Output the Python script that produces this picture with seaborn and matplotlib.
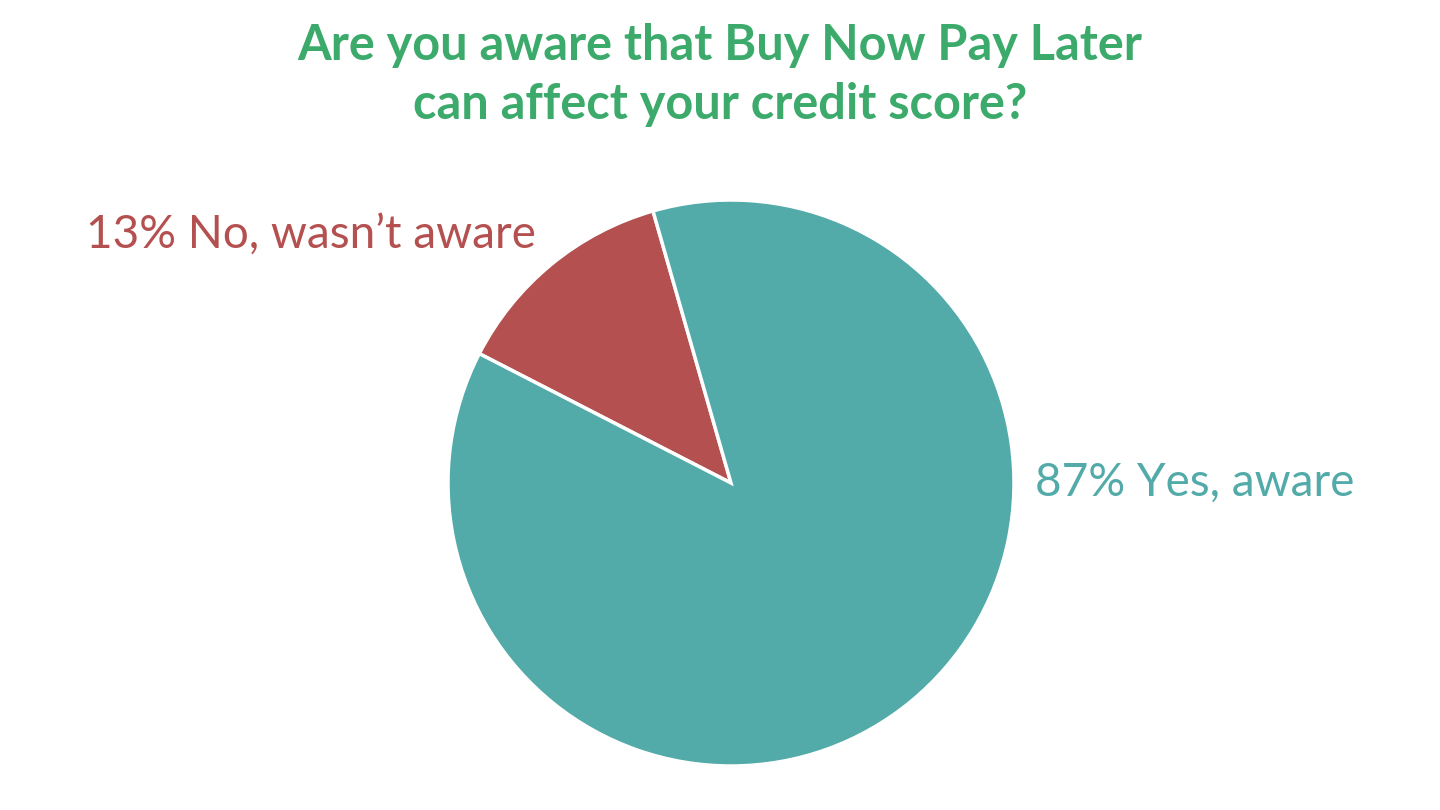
import numpy as np
import matplotlib
matplotlib.use('Agg')
import matplotlib.pyplot as plt
import seaborn as sns

# survey answers (percent)
answers = ['No, wasn\u2019t aware', 'Yes, aware']
shares  = [13, 87]
colors  = ['#B45050', '#52AAA9']
title   = 'Are you aware that Buy Now Pay Later\ncan affect your credit score?'

sns.set_style('white')
plt.rcParams['font.family'] = ['Lato', 'DejaVu Sans']

fig = plt.figure(figsize=(14.4, 8.1), dpi=100)
ax  = fig.add_axes([448 / 1440, 44 / 810, 566 / 1440, 566 / 810])

wedges, _ = ax.pie(shares, colors=colors, startangle=106, counterclock=True,
                   wedgeprops=dict(edgecolor='white', linewidth=2.5))
ax.set_xlim(-1, 1)
ax.set_ylim(-1, 1)
ax.set_aspect('equal')
ax.axis('off')

# labels next to the slices
label_pos = [(-0.69, 0.876, 'right'), (1.074, 0.0, 'left')]
for share, answer, col, (lx, ly, ha) in zip(shares, answers, colors, label_pos):
    ax.text(lx, ly, '%d%% %s' % (share, answer), color=col, fontsize=33,
            ha=ha, va='center')

fig.text(0.5, 0.907, title, color='#3BAA6B', fontsize=35, fontweight='bold',
         ha='center', va='center', linespacing=1.38)

fig.savefig('out.png', dpi=100)
